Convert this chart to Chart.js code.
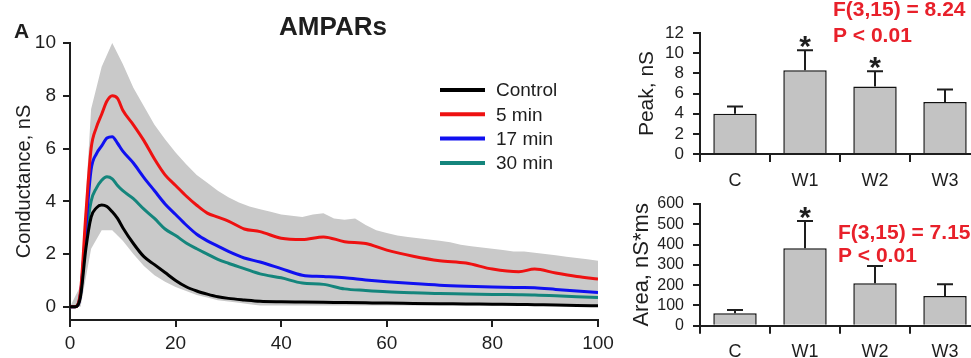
<!DOCTYPE html>
<html>
<head>
<meta charset="utf-8">
<title>AMPARs conductance</title>
<script src="https://cdn.jsdelivr.net/npm/chart.js@4.4.1/dist/chart.umd.min.js"></script>
<style>
  html, body { margin: 0; padding: 0; background: #fff; overflow: hidden; width: 971px; height: 358px; }
  canvas { position: absolute; }
  #mainChart { left: 0; top: 0; }
  #peakChart { left: 620px; top: 0; }
  #areaChart { left: 620px; top: 185px; }
</style>
</head>
<body>
<canvas id="mainChart" width="620" height="358"></canvas>
<canvas id="peakChart" width="370" height="200"></canvas>
<canvas id="areaChart" width="370" height="180"></canvas>
<script>
// time axis (ms) shared by the four mean traces
const timeMs = [0, 1, 2, 3, 4, 5, 6, 7, 8, 9, 10, 12, 14, 16, 18, 20, 22, 24, 26, 28, 30, 33, 36, 40, 44, 48, 52, 56, 60, 65, 70, 75, 80, 85, 88, 92, 96, 100];
const control = [0, 0, 0.4, 2.2, 3.4, 3.75, 3.86, 3.8, 3.6, 3.35, 3.0, 2.4, 1.9, 1.6, 1.3, 1.0, 0.76, 0.6, 0.48, 0.38, 0.32, 0.26, 0.21, 0.19, 0.18, 0.17, 0.16, 0.15, 0.14, 0.13, 0.12, 0.11, 0.1, 0.09, 0.08, 0.07, 0.05, 0.04];
const min5 = [0, 0, 0.6, 3.5, 6.0, 6.8, 7.3, 7.8, 8.0, 7.9, 7.45, 6.9, 6.3, 5.6, 5.0, 4.6, 4.2, 3.85, 3.55, 3.4, 3.25, 2.95, 2.85, 2.6, 2.55, 2.65, 2.47, 2.4, 2.15, 1.92, 1.75, 1.66, 1.43, 1.33, 1.43, 1.28, 1.15, 1.05];
const min17 = [0, 0, 0.5, 3.0, 5.2, 5.8, 6.1, 6.4, 6.45, 6.2, 5.9, 5.45, 4.9, 4.4, 3.9, 3.5, 3.1, 2.75, 2.5, 2.3, 2.1, 1.85, 1.7, 1.45, 1.2, 1.15, 1.1, 1.02, 0.95, 0.88, 0.82, 0.78, 0.75, 0.73, 0.72, 0.66, 0.6, 0.54];
const min30 = [0, 0, 0.5, 2.6, 4.0, 4.5, 4.8, 4.93, 4.85, 4.6, 4.4, 4.1, 3.7, 3.35, 2.95, 2.7, 2.42, 2.2, 2.0, 1.8, 1.65, 1.45, 1.25, 1.1, 0.9, 0.85, 0.68, 0.62, 0.57, 0.53, 0.5, 0.49, 0.47, 0.46, 0.45, 0.42, 0.38, 0.35];
const seriesNames = ["Control", "5 min", "17 min", "30 min"];
const seriesColors = ["#000000", "#ee1111", "#1010f0", "#14857c"];

// grey SEM envelope
const bandMs = [0, 2, 4, 6, 8, 10, 12, 14, 16, 18, 20, 22, 24, 26, 28, 30, 32, 34, 36, 38, 40, 42, 44, 46, 48, 50, 52, 54, 56, 58, 60, 62, 64, 66, 68, 70, 72, 74, 76, 78, 80, 82, 84, 86, 88, 90, 92, 94, 96, 98, 100];
const bandUpper = [0, 0.8, 7.5, 9.1, 10, 9.2, 8.3, 7.6, 6.9, 6.35, 5.85, 5.4, 5.0, 4.7, 4.4, 4.15, 3.95, 3.8, 3.7, 3.6, 3.5, 3.45, 3.4, 3.5, 3.55, 3.35, 3.3, 3.35, 3.1, 2.9, 2.8, 2.7, 2.65, 2.6, 2.55, 2.5, 2.45, 2.35, 2.3, 2.25, 2.2, 2.15, 2.1, 2.1, 2.05, 2.0, 1.95, 1.9, 1.85, 1.8, 1.75];
const bandLower = [0, 0, 2.2, 2.9, 2.9, 2.5, 2.0, 1.55, 1.2, 0.95, 0.75, 0.6, 0.45, 0.35, 0.25, 0.2, 0.15, 0.1, 0.05, 0.05, 0.05, 0.05, 0.05, 0.05, 0.05, 0.05, 0.05, 0.05, 0.05, 0.05, 0.05, 0.05, 0.05, 0.05, 0.05, 0.05, 0.05, 0.05, 0.05, 0.05, 0.05, 0.05, 0.05, 0.05, 0.05, 0.05, 0.05, 0.05, 0.05, 0.05, 0.05];

const xTicksMain = [0, 20, 40, 60, 80, 100];
const yTicksMain = [0, 2, 4, 6, 8, 10];

// bar panels
const groups = ["C", "W1", "W2", "W3"];
const peakMean = [4.0, 8.3, 6.7, 5.15];
const peakErrTop = [4.7, 10.3, 8.2, 6.4];
const peakStars = ["", "*", "*", ""];
const areaMean = [61, 382, 209, 146];
const areaErrTop = [77, 516, 294, 204];
const areaStars = ["", "*", "", ""];

const FONT = "'Liberation Sans', Arial, Helvetica, sans-serif";
const INK = "#1e1e1e";
const RED = "#e8202a";
Chart.defaults.font.family = FONT;
Chart.defaults.color = INK;

function pts(xs, ys) {
  return xs.map((x, i) => ({ x: x, y: ys[i] }));
}

function tickList(list) {
  return (scale) => {
    scale.ticks = list.map((v) => ({ value: v }));
  };
}

const notesPlugin = {
  id: "notes",
  afterDraw(chart, args, opts) {
    const ctx = chart.ctx;
    ctx.save();
    (opts.items || []).forEach((it) => {
      ctx.font = it.font;
      ctx.fillStyle = it.color || INK;
      ctx.textAlign = it.align || "left";
      ctx.textBaseline = "middle";
      ctx.fillText(it.text, it.x, it.y);
    });
    ctx.restore();
  }
};

const lineKeyPlugin = {
  id: "lineKey",
  afterDraw(chart, args, opts) {
    const ctx = chart.ctx;
    ctx.save();
    ctx.font = "19px " + FONT;
    ctx.textBaseline = "middle";
    seriesNames.forEach((name, i) => {
      const ds = chart.data.datasets[i];
      const y = opts.top + i * opts.gap;
      ctx.strokeStyle = ds.borderColor;
      ctx.lineWidth = 4;
      ctx.beginPath();
      ctx.moveTo(opts.x, y);
      ctx.lineTo(opts.x + 45, y);
      ctx.stroke();
      ctx.fillStyle = INK;
      ctx.fillText(name, opts.x + 56, y + 1);
    });
    ctx.restore();
  }
};

const errorBarPlugin = {
  id: "errorBars",
  afterDatasetsDraw(chart, args, opts) {
    const ctx = chart.ctx;
    const meta = chart.getDatasetMeta(0);
    const y = chart.scales.y;
    ctx.save();
    ctx.strokeStyle = INK;
    ctx.lineWidth = 2;
    opts.tops.forEach((top, i) => {
      const bar = meta.data[i];
      const yTop = y.getPixelForValue(top);
      ctx.beginPath();
      ctx.moveTo(bar.x, bar.y);
      ctx.lineTo(bar.x, yTop);
      ctx.moveTo(bar.x - 8, yTop);
      ctx.lineTo(bar.x + 8, yTop);
      ctx.stroke();
      if (opts.stars[i]) {
        ctx.fillStyle = INK;
        ctx.font = "bold 30px " + FONT;
        ctx.textAlign = "center";
        ctx.textBaseline = "alphabetic";
        ctx.fillText(opts.stars[i], bar.x, yTop + 6);
      }
    });
    ctx.restore();
  }
};

function buildMain() {
  const lines = [control, min5, min17, min30].map((vals, i) => ({
    label: seriesNames[i],
    data: pts(timeMs, vals),
    borderColor: seriesColors[i],
    borderWidth: 3,
    pointRadius: 0,
    cubicInterpolationMode: "monotone",
    fill: false
  }));
  const band = [
    {
      label: "upper",
      data: pts(bandMs, bandUpper),
      borderWidth: 0,
      pointRadius: 0,
      backgroundColor: "#c9c9c9",
      fill: { target: 5 }
    },
    {
      label: "lower",
      data: pts(bandMs, bandLower),
      borderWidth: 0,
      pointRadius: 0,
      fill: false
    }
  ];
  new Chart(document.getElementById("mainChart"), {
    type: "line",
    data: { datasets: lines.concat(band) },
    plugins: [notesPlugin, lineKeyPlugin],
    options: {
      responsive: false,
      animation: false,
      layout: { padding: { top: 43, right: 22, left: 0, bottom: 0 } },
      plugins: {
        legend: { display: false },
        tooltip: { enabled: false },
        lineKey: { x: 440, top: 90, gap: 24.3 },
        notes: {
          items: [
            { text: "A", x: 14, y: 32, font: "bold 21px " + FONT },
            { text: "AMPARs", x: 333, y: 28, font: "bold 26px " + FONT, align: "center" }
          ]
        }
      },
      scales: {
        x: {
          type: "linear",
          min: 0,
          max: 100,
          afterBuildTicks: tickList(xTicksMain),
          afterFit: (s) => { s.height = 38; },
          border: { color: INK, width: 2 },
          grid: { drawOnChartArea: false, color: INK, lineWidth: 2, tickLength: 7 },
          ticks: { font: { size: 19 }, color: INK, padding: 5, maxRotation: 0 }
        },
        y: {
          type: "linear",
          min: -0.5,
          max: 10,
          afterBuildTicks: tickList(yTicksMain),
          afterFit: (s) => { s.width = 70; },
          border: { color: INK, width: 2 },
          grid: { drawOnChartArea: false, color: INK, lineWidth: 2, tickLength: 7 },
          ticks: { font: { size: 19 }, color: INK, padding: 7 },
          title: { display: true, text: "Conductance, nS", font: { size: 20 }, color: INK, padding: { top: 12, bottom: 0 } }
        }
      }
    }
  });
}

function buildBars(canvasId, means, tops, stars, yMax, yStep, yTitle, geom, redLines) {
  new Chart(document.getElementById(canvasId), {
    type: "bar",
    data: {
      labels: groups,
      datasets: [{
        data: means,
        backgroundColor: "#c3c3c3",
        borderColor: "#111",
        borderWidth: 1.5,
        barPercentage: 0.62,
        categoryPercentage: 1
      }]
    },
    plugins: [errorBarPlugin, notesPlugin],
    options: {
      responsive: false,
      animation: false,
      layout: { padding: { top: geom.top, right: 10, left: 0, bottom: 0 } },
      plugins: {
        legend: { display: false },
        tooltip: { enabled: false },
        errorBars: { tops: tops, stars: stars },
        notes: { items: redLines }
      },
      scales: {
        x: {
          afterFit: (s) => { s.height = geom.xh; },
          border: { color: INK, width: 2 },
          grid: { drawOnChartArea: false, color: INK, lineWidth: 2, tickLength: 8 },
          ticks: { font: { size: 18 }, color: INK, padding: 8 }
        },
        y: {
          min: 0,
          max: yMax,
          ticks: { stepSize: yStep, autoSkip: false, font: { size: geom.tickSize }, color: INK, padding: 9 },
          afterFit: (s) => { s.width = 80; },
          border: { color: INK, width: 2 },
          grid: { drawOnChartArea: false, color: INK, lineWidth: 2, tickLength: 7 },
          title: { display: true, text: yTitle, font: { size: geom.titleSize }, color: INK, padding: { top: geom.titlePad, bottom: 0 } }
        }
      }
    }
  });
}

document.addEventListener("DOMContentLoaded", function () {
  buildMain();
  buildBars("peakChart", peakMean, peakErrTop, peakStars, 12, 2, "Peak, nS",
    { top: 33, xh: 46, tickSize: 17, titleSize: 21, titlePad: 15 },
    [
      { text: "F(3,15) = 8.24", x: 213, y: 10, font: "bold 21px " + FONT, color: RED },
      { text: "P < 0.01", x: 213, y: 36, font: "bold 21px " + FONT, color: RED }
    ]);
  buildBars("areaChart", areaMean, areaErrTop, areaStars, 600, 100, "Area, nS*ms",
    { top: 19, xh: 39.3, tickSize: 16, titleSize: 22, titlePad: 9 },
    [
      { text: "F(3,15) = 7.15", x: 218, y: 48, font: "bold 21px " + FONT, color: RED },
      { text: "P < 0.01", x: 218, y: 71, font: "bold 21px " + FONT, color: RED }
    ]);
});
</script>
</body>
</html>
